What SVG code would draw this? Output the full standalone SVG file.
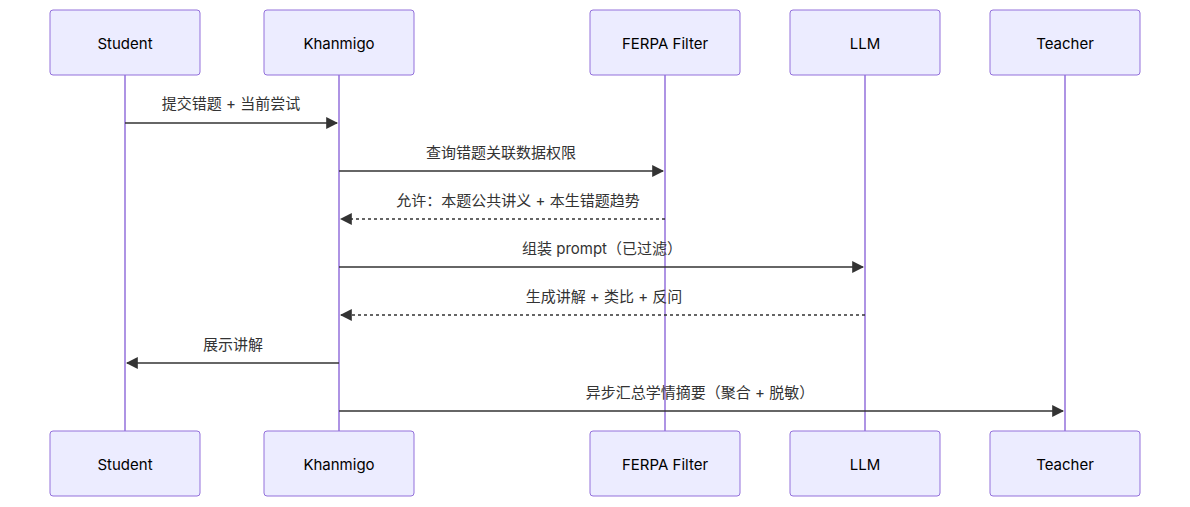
<svg xmlns="http://www.w3.org/2000/svg" width="1190" height="507" viewBox="0 0 1190 507">
<style>
.box{fill:#ECECFF;stroke:#9370DB;stroke-width:1}
.at{font-family:Inter,"Noto Sans","Noto Sans CJK SC",sans-serif;font-size:15px;fill:#000;text-anchor:middle;dominant-baseline:central}
.life{stroke:#9370DB;stroke-width:1.5}
.m{stroke:#333;stroke-width:1.5;fill:none}
.d{stroke-dasharray:3,3}
.mt{font-family:Inter,"Noto Sans","Noto Sans CJK SC",sans-serif;font-size:15px;fill:#333;text-anchor:middle}
</style>
<defs><marker id="ah" viewBox="0 0 10 10" refX="9" refY="5" markerWidth="8" markerHeight="8" orient="auto-start-reverse"><path d="M0,0L10,5L0,10z" fill="#333"/></marker></defs>
<rect width="1190" height="507" fill="#fff"/>
<g id="lifelines">
<line class="life" x1="125" y1="75" x2="125" y2="431"/>
<line class="life" x1="339" y1="75" x2="339" y2="431"/>
<line class="life" x1="665" y1="75" x2="665" y2="431"/>
<line class="life" x1="865" y1="75" x2="865" y2="431"/>
<line class="life" x1="1065" y1="75" x2="1065" y2="431"/>
</g>
<g id="student"><rect class="box" x="50" y="10" width="150" height="65" rx="3"/><text class="at" x="125" y="43">Student</text><rect class="box" x="50" y="431" width="150" height="65" rx="3"/><text class="at" x="125" y="464">Student</text></g>
<g id="khanmigo"><rect class="box" x="264" y="10" width="150" height="65" rx="3"/><text class="at" x="339" y="43">Khanmigo</text><rect class="box" x="264" y="431" width="150" height="65" rx="3"/><text class="at" x="339" y="464">Khanmigo</text></g>
<g id="ferpa"><rect class="box" x="590" y="10" width="150" height="65" rx="3"/><text class="at" x="665" y="43">FERPA Filter</text><rect class="box" x="590" y="431" width="150" height="65" rx="3"/><text class="at" x="665" y="464">FERPA Filter</text></g>
<g id="llm"><rect class="box" x="790" y="10" width="150" height="65" rx="3"/><text class="at" x="865" y="43">LLM</text><rect class="box" x="790" y="431" width="150" height="65" rx="3"/><text class="at" x="865" y="464">LLM</text></g>
<g id="teacher"><rect class="box" x="990" y="10" width="150" height="65" rx="3"/><text class="at" x="1065" y="43">Teacher</text><rect class="box" x="990" y="431" width="150" height="65" rx="3"/><text class="at" x="1065" y="464">Teacher</text></g>
<g id="connectors">
<line class="m" x1="125" y1="123" x2="337" y2="123" marker-end="url(#ah)"/>
<text class="mt" x="231" y="109">提交错题 + 当前尝试</text>
<line class="m" x1="339" y1="171" x2="663" y2="171" marker-end="url(#ah)"/>
<text class="mt" x="501" y="158">查询错题关联数据权限</text>
<line class="m d" x1="665" y1="219" x2="341" y2="219" marker-end="url(#ah)"/>
<text class="mt" x="518" y="206">允许：本题公共讲义 + 本生错题趋势</text>
<line class="m" x1="339" y1="267" x2="863" y2="267" marker-end="url(#ah)"/>
<text class="mt" x="602" y="254">组装 prompt（已过滤）</text>
<line class="m d" x1="865" y1="315" x2="341" y2="315" marker-end="url(#ah)"/>
<text class="mt" x="604" y="302">生成讲解 + 类比 + 反问</text>
<line class="m" x1="339" y1="363" x2="127" y2="363" marker-end="url(#ah)"/>
<text class="mt" x="233" y="350">展示讲解</text>
<line class="m" x1="339" y1="411" x2="1063" y2="411" marker-end="url(#ah)"/>
<text class="mt" x="700" y="398">异步汇总学情摘要（聚合 + 脱敏）</text>
</g>
</svg>
